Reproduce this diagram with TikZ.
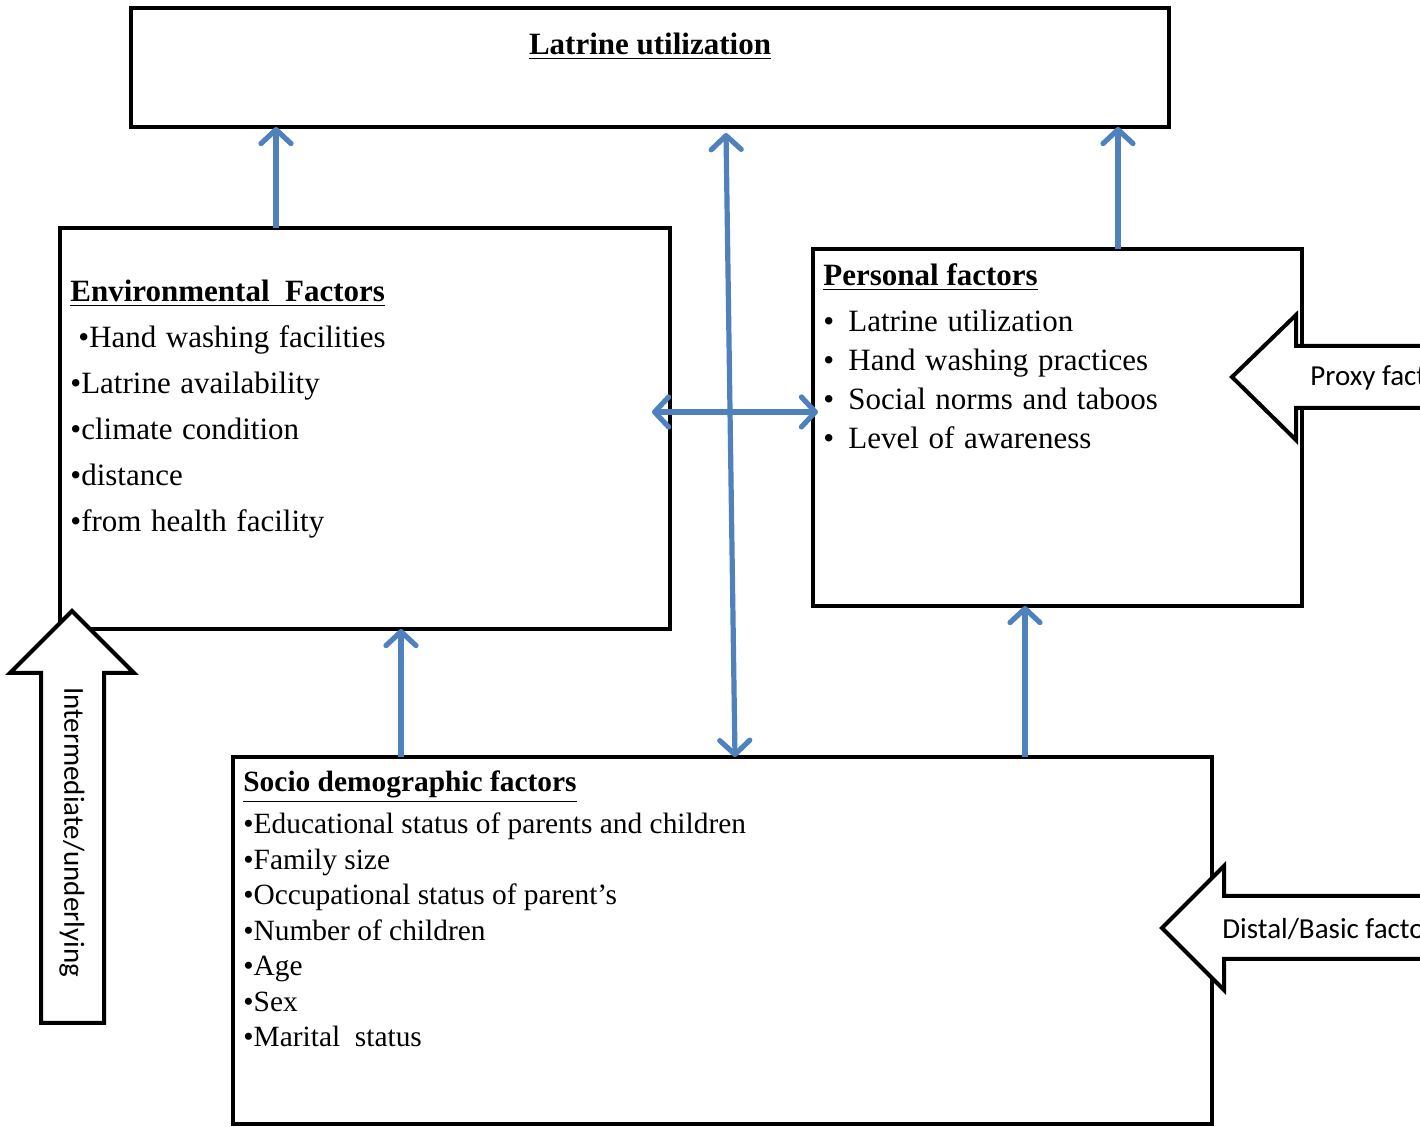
\documentclass[tikz,border=0pt]{standalone}
\usepackage{fontspec}
\setmainfont{Liberation Serif}
\newfontfamily\calfont{Carlito}
\usetikzlibrary{arrows.meta}

\definecolor{linkblue}{RGB}{79,129,189}
\newcommand{\widesp}[1]{\spaceskip=#1\relax}

\tikzset{
    box/.style={draw, line width=2pt, anchor=north west, inner sep=0pt, outer sep=0pt},
    txt/.style={anchor=base west, inner sep=0pt, font=\fontsize{15.5}{18}\selectfont},
    widetxt/.style={txt, execute at begin node={\widesp{0.31em}}},
    small/.style={anchor=base west, inner sep=0pt, font=\fontsize{14.7}{17}\selectfont},
    link/.style={draw=linkblue, line width=2.6pt},
    block/.style={draw, fill=white, line width=2pt},
    blocklabel/.style={inner sep=0pt, font=\calfont\fontsize{14.5}{17}\selectfont},
    >={Straight Barb[round, length=7pt, width=15pt]}
}

\begin{document}
\begin{tikzpicture}[x=0.5pt, y=-0.5pt]
            \useasboundingbox (0,0) rectangle (1420,1127);
            \clip (0,0) rectangle (1420,1127);

            % boxes
            \node[box, minimum width=519pt, minimum height=59.5pt] (top) at (131,8) {};
            \node[box, minimum width=305pt, minimum height=200.5pt] (env) at (60,228) {};
            \node[box, minimum width=244.5pt, minimum height=178.5pt] (pers) at (813,249) {};
            \node[box, minimum width=489.5pt, minimum height=183.5pt] (socio) at (233,757) {};

            % titles
            \node[txt, anchor=base] (toptitle) at (650,55) {\textbf{\underline{Latrine utilization}}};
            \node[txt] (envtitle) at (70,302) {\textbf{\underline{Environmental\ \ Factors}}};
            \node[txt] (perstitle) at (823,286) {\textbf{\underline{Personal factors}}};
            \node[small] (sociotitle) at (243,792) {\textbf{\underline{Socio demographic factors}}};

            % environmental items
            \node[widetxt] (env1) at (78,348) {•Hand washing facilities};
            \foreach \t [count=\i from 2] in {•Latrine availability, •climate condition, •distance, •from health facility}{
                \node[widetxt] (env\i) at (70,348+46*\i-46) {\t};
            }

            % personal items
            \foreach \t [count=\i] in {Latrine utilization, Hand washing practices, Social norms and taboos, Level of awareness}{
                \node[txt] (persb\i) at (823,332+39*\i-39) {•};
                \node[widetxt] (pers\i) at (848,332+39*\i-39) {\t};
            }

            % socio demographic items
            \foreach \t [count=\i] in {Educational status of parents and children, Family size, Occupational status of parent’s, Number of children, Age, Sex, Marital\ \ status}{
                \node[small] (socio\i) at (243,834+35.5*\i-35.5) {•\t};
            }

            % blue arrows
            \coordinate (xa) at (276,0);
            \coordinate (xb) at (1118,0);
            \coordinate (xc) at (401,0);
            \coordinate (xd) at (1025,0);
            \coordinate (mtop) at (726,133);
            \coordinate (mbot) at (735,757);
            \coordinate (hleft) at (652,412);
            \coordinate (hright) at (818,412);
            \draw[link, ->] (xa |- env.north) -- (xa |- top.south);
            \draw[link, ->] (xb |- pers.north) -- (xb |- top.south);
            \draw[link, <->] (mtop) -- (mbot);
            \draw[link, <->] (hleft) -- (hright);
            \draw[link, ->] (xc |- socio.north) -- (xc |- env.south);
            \draw[link, ->] (xd |- socio.north) -- (xd |- pers.south);

            % block arrows
            \draw[block] (1232,377) -- (1296,315) -- (1296,346) -- (1440,346) -- (1440,408) -- (1296,408) -- (1296,440) -- cycle;
            \node[blocklabel, anchor=west] (proxy) at (1310,378) {Proxy factors};
            \draw[block] (1162,928) -- (1224,866) -- (1224,896) -- (1440,896) -- (1440,959) -- (1224,959) -- (1224,990) -- cycle;
            \node[blocklabel, anchor=west] (distal) at (1222,929) {Distal/Basic factors};
            \draw[block] (72,611) -- (134,673) -- (104,673) -- (104,1023) -- (41,1023) -- (41,673) -- (10,673) -- cycle;
            \node[blocklabel, rotate=-90] (inter) at (72,832) {Intermediate/underlying};

        \end{tikzpicture}
\end{document}
